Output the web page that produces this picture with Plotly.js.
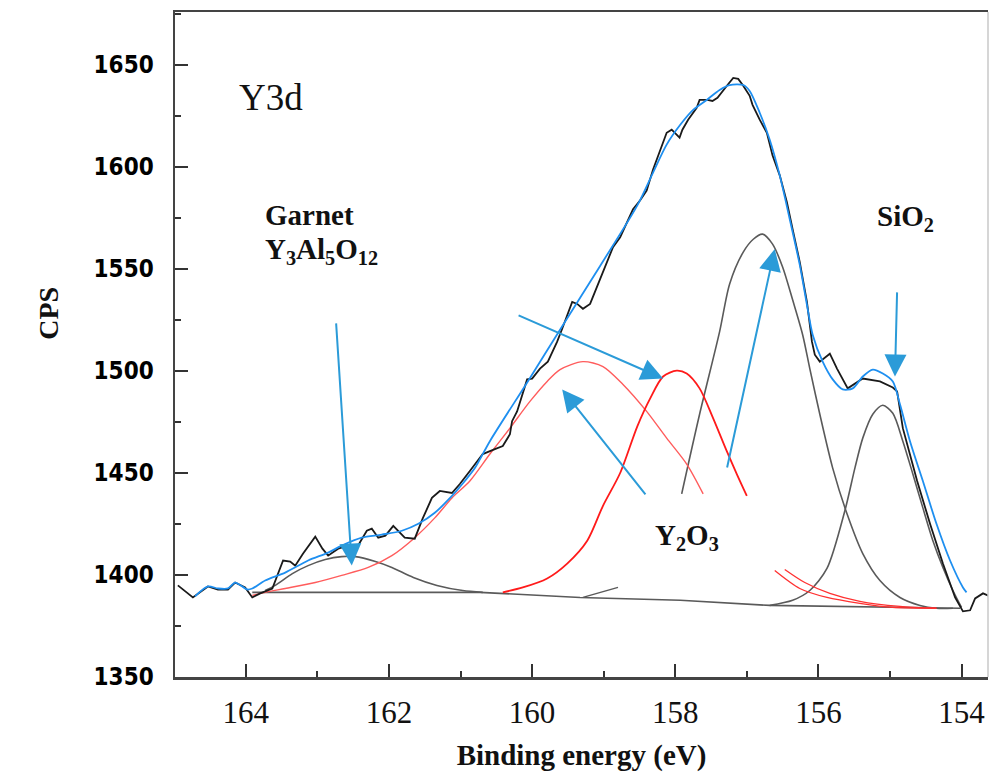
<!DOCTYPE html>
<html>
<head>
<meta charset="utf-8">
<script src="https://cdn.plot.ly/plotly-3.0.1.min.js"></script>
<style>html,body{margin:0;padding:0;background:#fff;}#chart{width:993px;height:778px;}</style>
</head>
<body>
<div id="chart"></div>
<script>
// Measured spectrum (black)
const rawX = [164.95,164.74,164.53,164.39,164.25,164.15,164.01,163.91,163.80,163.63,163.48,163.38,163.31,163.20,163.03,162.93,162.85,162.71,162.57,162.45,162.31,162.24,162.15,162.05,161.94,161.87,161.78,161.64,161.53,161.40,161.29,161.12,161.01,160.87,160.69,160.52,160.41,160.31,160.28,160.21,160.14,160.07,160.00,159.89,159.78,159.65,159.58,159.51,159.44,159.37,159.29,159.19,159.12,159.05,158.95,158.87,158.77,158.59,158.49,158.40,158.31,158.22,158.17,158.12,158.05,158.01,157.94,157.90,157.82,157.70,157.66,157.55,157.48,157.41,157.34,157.27,157.19,157.12,157.05,156.96,156.92,156.82,156.72,156.64,156.54,156.44,156.36,156.26,156.16,156.09,156.05,155.98,155.84,155.74,155.59,155.38,155.14,154.96,154.90,154.82,154.62,154.44,154.26,154.09,153.98,153.88,153.81,153.70,153.56];
const rawY = [1394.9,1389.0,1394.4,1392.9,1392.9,1396.3,1393.9,1389.0,1391.0,1393.4,1407.1,1406.6,1404.6,1410.5,1418.8,1412.9,1409.5,1412.9,1414.4,1413.4,1421.7,1422.7,1418.3,1419.3,1424.1,1421.7,1418.3,1417.8,1427.6,1437.8,1441.2,1440.2,1444.6,1451.0,1459.3,1461.7,1463.2,1469.0,1475.4,1480.2,1488.5,1495.9,1496.3,1501.2,1504.6,1514.4,1520.7,1527.6,1533.9,1532.9,1530.5,1532.9,1538.8,1545.1,1553.4,1560.7,1565.6,1579.3,1583.7,1588.5,1598.8,1607.1,1612.0,1616.8,1618.3,1616.8,1614.4,1618.3,1623.2,1629.0,1632.9,1632.9,1632.4,1633.9,1637.3,1640.2,1643.7,1643.2,1639.8,1634.9,1630.5,1623.2,1616.8,1605.6,1595.9,1582.7,1569.5,1553.4,1533.9,1514.4,1508.0,1504.6,1508.5,1501.2,1491.5,1496.3,1494.9,1491.9,1490.0,1472.0,1446.1,1425.1,1405.6,1389.0,1382.2,1382.7,1388.5,1391.0,1389.0];

// Envelope fit (blue)
const fitX = [164.71,164.53,164.39,164.25,164.15,163.98,163.91,163.73,163.45,163.13,162.85,162.66,162.38,162.10,161.82,161.59,161.36,161.12,160.94,160.80,160.59,160.06,159.61,159.05,158.53,158.31,158.12,157.93,157.75,157.56,157.38,157.24,157.05,156.96,156.82,156.68,156.54,156.40,156.26,156.15,156.08,155.94,155.80,155.66,155.52,155.38,155.24,155.10,154.96,154.86,154.72,154.54,154.35,154.16,153.98,153.93];
const fitY = [1389.5,1394.4,1393.4,1393.4,1396.3,1392.9,1393.4,1397.3,1401.2,1407.1,1411.0,1414.4,1418.3,1419.8,1421.7,1425.1,1430.5,1438.8,1446.1,1452.4,1465.6,1494.9,1520.2,1551.5,1581.2,1597.3,1611.0,1620.7,1628.0,1632.9,1637.8,1640.2,1640.2,1637.3,1626.6,1613.4,1595.9,1574.4,1552.0,1530.5,1517.8,1504.6,1495.9,1491.0,1491.5,1497.3,1500.7,1498.8,1494.9,1483.7,1465.6,1446.1,1425.1,1407.1,1393.9,1391.5];

// Background (grey)
const bgX = [163.91,160.73,159.33,157.93,156.68,154.02];
const bgY = [1391.5,1391.5,1389.0,1387.6,1385.1,1383.7];

// Garnet Y3Al5O12 component (grey)
const garnetX = [163.73,163.59,163.35,163.13,162.89,162.66,162.47,162.19,161.96,161.66,161.33,160.97,160.69];
const garnetY = [1392.4,1394.9,1400.7,1404.6,1407.6,1409.0,1409.0,1406.6,1403.7,1398.8,1394.9,1392.4,1391.5];

// Y2O3 component 1 (light red)
const y2o3aX = [163.91,163.73,163.45,163.03,162.66,162.29,161.96,161.64,161.36,161.12,160.87,160.59,160.31,160.03,159.79,159.61,159.29,159.01,158.73,158.40,158.12,157.84,157.61];
const y2o3aY = [1390.0,1391.5,1393.4,1396.3,1399.8,1403.7,1409.5,1418.3,1428.0,1437.8,1446.1,1459.3,1472.0,1485.1,1494.9,1500.7,1504.6,1502.2,1493.4,1480.2,1467.1,1454.4,1439.8];

// Y2O3 component 2 (red)
const y2o3bX = [160.41,160.13,159.79,159.51,159.23,159.01,158.77,158.53,158.35,158.17,157.98,157.84,157.66,157.47,157.28,157.14,157.00];
const y2o3bY = [1391.5,1393.9,1398.3,1405.6,1416.8,1433.9,1450.0,1472.9,1486.6,1497.3,1500.2,1498.8,1491.5,1476.8,1460.7,1449.5,1438.8];

// Main component near 156.8 eV (grey)
const mainX = [157.91,157.66,157.38,157.24,157.05,156.91,156.78,156.64,156.50,156.36,156.22,156.12,155.98,155.80,155.60,155.38,155.14,154.86,154.58,154.35,154.12];
const mainY = [1439.8,1478.8,1519.3,1542.7,1558.3,1564.6,1567.1,1562.2,1551.0,1534.9,1517.8,1501.2,1478.8,1452.4,1430.0,1410.5,1397.3,1389.0,1385.1,1383.7,1383.7];

// SiO2 component (grey)
const sio2X = [156.68,156.36,156.12,155.88,155.63,155.49,155.38,155.24,155.10,154.96,154.82,154.68,154.54,154.40,154.26,154.12,154.00];
const sio2Y = [1385.1,1387.6,1392.4,1403.2,1431.5,1452.4,1467.1,1478.8,1483.2,1479.3,1465.6,1449.5,1432.9,1416.8,1403.7,1392.4,1384.1];

// Red tails on the right
const tail1X = [156.61,156.26,155.88,155.42,154.96,154.35];
const tail1Y = [1402.2,1393.4,1389.0,1386.1,1384.1,1383.7];
const tail2X = [156.47,156.19,155.84,155.42,154.86,154.35];
const tail2Y = [1402.7,1396.3,1391.0,1387.1,1384.6,1383.7];

// Small grey fragment
const fragX = [159.29,158.80];
const fragY = [1389.0,1393.9];

// Ticks
const xTickVals = [164,162,160,158,156,154];
const xTickText = ['164','162','160','158','156','154'];
const yTickVals = [1350,1400,1450,1500,1550,1600,1650];
const yTickText = ['1350','1400','1450','1500','1550','1600','1650'];

const GREY = '#5a5a5a';
const BLUE = '#2b9bd8';
const serif = 'Liberation Serif, Times New Roman, serif';

function line(x, y, color, width, name, smooth) {
  const ln = {color: color, width: width};
  if (smooth) { ln.shape = 'spline'; ln.smoothing = 0.8; }
  return {x: x, y: y, type: 'scatter', mode: 'lines', name: name, line: ln, hoverinfo: 'skip'};
}

const traces = [
  line(bgX, bgY, GREY, 1.6, 'Background', false),
  line(fragX, fragY, GREY, 1.4, 'Fragment', false),
  line(garnetX, garnetY, GREY, 1.6, 'Garnet', true),
  line(mainX, mainY, GREY, 1.6, 'Component 156.8', true),
  line(sio2X, sio2Y, GREY, 1.6, 'SiO2', true),
  line(tail1X, tail1Y, '#ff3030', 1.3, 'Tail 1', true),
  line(tail2X, tail2Y, '#ff3030', 1.3, 'Tail 2', true),
  line(y2o3aX, y2o3aY, '#ff5c5c', 1.4, 'Y2O3 a', true),
  line(y2o3bX, y2o3bY, '#ff1a1a', 1.8, 'Y2O3 b', true),
  line(rawX, rawY, '#1a1a1a', 1.8, 'Raw', false),
  line(fitX, fitY, '#1e8ff0', 1.8, 'Fit', true)
];

function arrow(xTip, yTip, xTail, yTail) {
  return {x: xTip, y: yTip, ax: xTail, ay: yTail, xref: 'x', yref: 'y', axref: 'x', ayref: 'y',
          text: '', showarrow: true, arrowhead: 2, arrowsize: 2.2, arrowwidth: 2,
          arrowcolor: BLUE, standoff: 0, startstandoff: 0};
}

const labelFont = {family: serif, size: 29, color: '#111', weight: 'bold'};

const layout = {
  width: 993, height: 778,
  margin: {l: 175, r: 5, t: 12, b: 101},
  paper_bgcolor: '#fff', plot_bgcolor: '#fff',
  showlegend: false,
  xaxis: {
    range: [164.99, 153.63],
    tickvals: xTickVals, ticktext: xTickText,
    ticks: 'inside', ticklen: 13, tickwidth: 2, tickcolor: '#333',
    minor: {dtick: 1, ticks: 'inside', ticklen: 6, tickwidth: 2, tickcolor: '#333'},
    showgrid: false, zeroline: false,
    showline: true, linecolor: '#444', linewidth: 2.5, mirror: true,
    tickfont: {family: serif, size: 31, color: '#111'},
    ticklabelstandoff: 6,
    title: {text: 'Binding energy (eV)', font: {family: serif, size: 29, color: '#111', weight: 'bold'}, standoff: 16}
  },
  yaxis: {
    range: [1350, 1676],
    tickvals: yTickVals, ticktext: yTickText,
    ticks: 'inside', ticklen: 13, tickwidth: 2, tickcolor: '#333',
    minor: {dtick: 25, ticks: 'inside', ticklen: 6, tickwidth: 2, tickcolor: '#333'},
    showgrid: false, zeroline: false,
    showline: true, linecolor: '#444', linewidth: 2.5, mirror: false,
    tickfont: {family: 'DejaVu Sans Condensed, DejaVu Sans, sans-serif', size: 24, color: '#000', weight: 'bold'},
    ticklabelstandoff: 14
  },
  shapes: [
    {type: 'line', xref: 'paper', yref: 'paper', x0: 1, x1: 1, y0: 0, y1: 1,
     line: {color: '#c8c8c8', width: 1.5}}
  ],
  annotations: [
    {text: 'CPS', xref: 'paper', yref: 'paper', x: -0.177, y: 0.547, textangle: -90,
     showarrow: false, font: {family: serif, size: 28, color: '#111', weight: 'bold'}},
    {text: 'Y3d', x: 164.12, y: 1633.9, xanchor: 'left', yanchor: 'middle', showarrow: false,
     font: {family: serif, size: 37, color: '#111'}},
    {text: 'Garnet', x: 163.76, y: 1576.3, xanchor: 'left', yanchor: 'middle', showarrow: false, font: labelFont},
    {text: 'Y<sub>3</sub>Al<sub>5</sub>O<sub>12</sub>', x: 163.76, y: 1558.8, xanchor: 'left', yanchor: 'middle', showarrow: false, font: labelFont},
    {text: 'SiO<sub>2</sub>', x: 155.21, y: 1574.9, xanchor: 'left', yanchor: 'middle', showarrow: false, font: labelFont},
    {text: 'Y<sub>2</sub>O<sub>3</sub>', x: 158.31, y: 1418.8, xanchor: 'left', yanchor: 'middle', showarrow: false, font: labelFont},
    arrow(162.52, 1404.6, 162.74, 1524.1),
    arrow(158.17, 1496.3, 160.21, 1527.6),
    arrow(159.58, 1491.0, 158.40, 1438.8),
    arrow(156.61, 1559.8, 157.28, 1452.0),
    arrow(154.93, 1497.3, 154.90, 1539.3)
  ]
};

Plotly.newPlot('chart', traces, layout, {staticPlot: true, displayModeBar: false});
</script>
</body>
</html>
